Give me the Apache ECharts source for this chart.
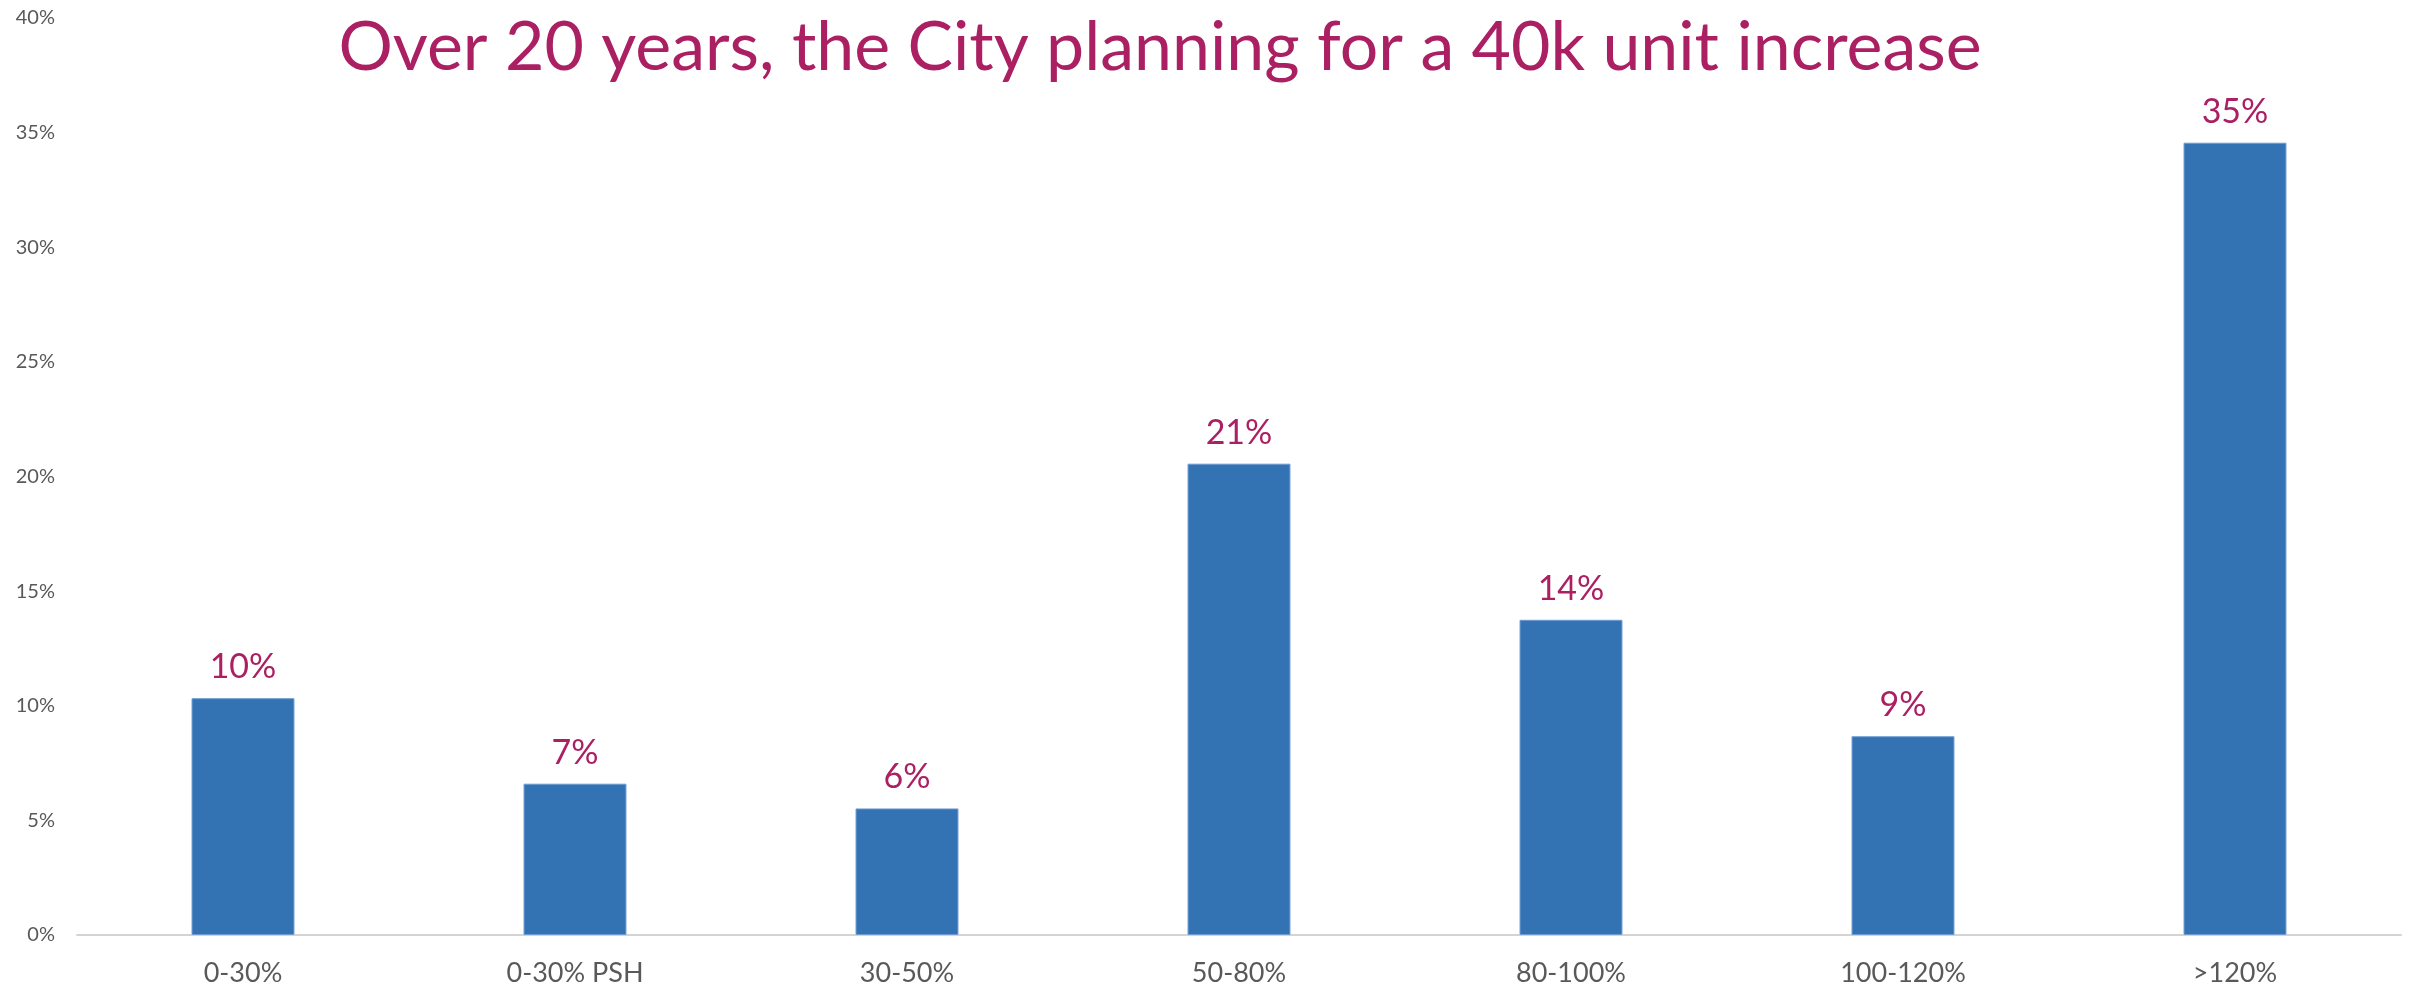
<!DOCTYPE html>
<html>
<head>
<meta charset="utf-8">
<title>40k unit increase</title>
<script src="https://cdn.jsdelivr.net/npm/echarts@6/dist/echarts.min.js"></script>
<style>
  html, body { margin: 0; padding: 0; background: #fff; }
  #chart { width: 2412px; height: 993px; }
</style>
</head>
<body>
<div id="chart"></div>
<script>
const categories = ['0-30%', '0-30% PSH', '30-50%', '50-80%', '80-100%', '100-120%', '>120%']
const shares = [10.33, 6.6, 5.52, 20.56, 13.75, 8.67, 34.56]
const yTicks = { min: 0, max: 40, interval: 5 }

const chart = echarts.init(document.getElementById('chart'))

const option = {
  backgroundColor: '#ffffff',
  title: {
    text: 'Over 20 years, the City planning for a 40k unit increase',
    left: 1155,
    top: 9,
    textAlign: 'center',
    textStyle: {
      fontFamily: 'Lato',
      fontSize: 68,
      fontWeight: 'normal',
      color: '#ab1f63'
    }
  },
  grid: {
    left: 77,
    right: 11,
    top: 18,
    bottom: 58
  },
  xAxis: {
    type: 'category',
    data: categories,
    axisTick: { show: false },
    axisLine: { lineStyle: { color: '#d4d4d4', width: 2 } },
    axisLabel: {
      fontFamily: 'Lato',
      fontSize: 27,
      color: '#595959',
      margin: 25
    }
  },
  yAxis: {
    type: 'value',
    min: yTicks.min,
    max: yTicks.max,
    interval: yTicks.interval,
    splitLine: { show: false },
    axisLine: { show: false },
    axisTick: { show: false },
    axisLabel: {
      formatter: '{value}%',
      fontFamily: 'Lato',
      fontSize: 20,
      color: '#595959',
      margin: 22
    }
  },
  series: [
    {
      type: 'bar',
      data: shares,
      barWidth: '31%',
      itemStyle: {
        color: '#3373b3',
        borderColor: '#6f9bd0',
        borderWidth: 1
      },
      label: {
        show: true,
        position: 'top',
        distance: 14,
        fontFamily: 'Lato',
        fontSize: 34,
        color: '#ab1f63',
        formatter: p => Math.round(p.value) + '%'
      }
    }
  ]
}

chart.setOption(option)

window.addEventListener('resize', () => {
  chart.resize()
})
</script>
</body>
</html>
